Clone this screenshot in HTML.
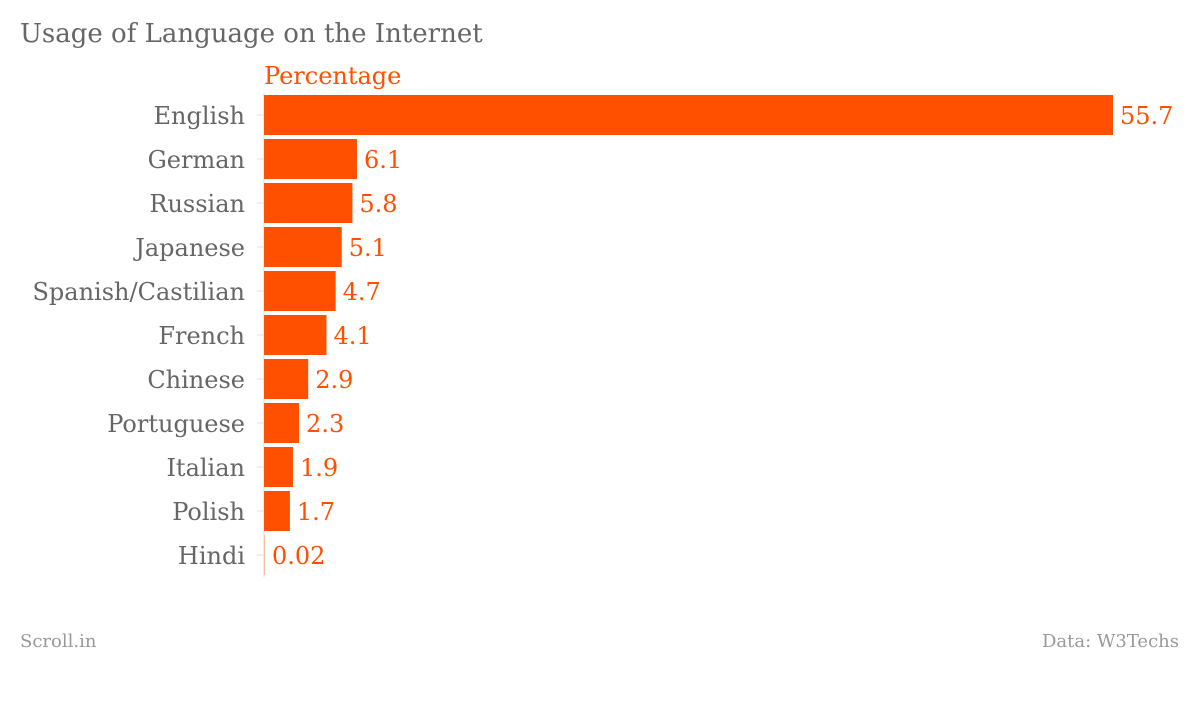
<!DOCTYPE html>
<html><head><meta charset="utf-8">
<style>
body{margin:0;background:#fff;width:1200px;height:700px;overflow:hidden;font-family:"DejaVu Serif","Liberation Serif",serif;}
svg text{font-family:"DejaVu Serif","Liberation Serif",serif;}
</style></head>
<body>
<svg width="1200" height="700">
<text x="20" y="42" font-size="26" fill="#666">Usage of Language on the Internet</text>
<text x="264" y="84" font-size="24" fill="#ff5000">Percentage</text>
<g id="bars"></g>
<text x="20" y="647" font-size="18" fill="#999">Scroll.in</text>
<text x="1179" y="647" font-size="18" fill="#999" text-anchor="end">Data: W3Techs</text>
</svg>
<script>
const categories=["English","German","Russian","Japanese","Spanish/Castilian","French","Chinese","Portuguese","Italian","Polish","Hindi"];
const values=[55.7,6.1,5.8,5.1,4.7,4.1,2.9,2.3,1.9,1.7,0.02];
const valueLabels=["55.7","6.1","5.8","5.1","4.7","4.1","2.9","2.3","1.9","1.7","0.02"];
const x0=264, pxPer=849/55.7, topY=93, step=44, barH=40;
const xs=v=>x0+v*pxPer;
const ys=i=>topY+i*step;
const g=document.getElementById('bars');
const NS='http://www.w3.org/2000/svg';
function mk(t,a){const e=document.createElementNS(NS,t);for(const k in a)e.setAttribute(k,a[k]);g.appendChild(e);return e;}
const ax=mk('line',{x1:x0,x2:x0,y1:topY,y2:ys(categories.length),stroke:'#ddd','stroke-width':1});


categories.forEach((c,i)=>{
  const cy=ys(i)+step/2;
  const tk=mk('line',{x1:x0-7,x2:x0,y1:cy,y2:cy,stroke:'#ddd','stroke-width':1});
  
  
  const lb=mk('text',{x:245,y:cy+9,'font-size':24,fill:'#666','text-anchor':'end'});
  lb.textContent=c;
  
  
  const w=Math.max(xs(values[i])-x0,1);
  const r=mk('rect',{x:x0,y:cy-barH/2,width:w,height:barH,fill:'#ff5000'});
  if(values[i]<0.5) r.setAttribute('fill-opacity','0.3');
  
  
  const vl=mk('text',{x:x0+w+7,y:cy+9,'font-size':24,fill:'#ff5000'});
  vl.textContent=valueLabels[i];
  
  
});
</script>
</body></html>
